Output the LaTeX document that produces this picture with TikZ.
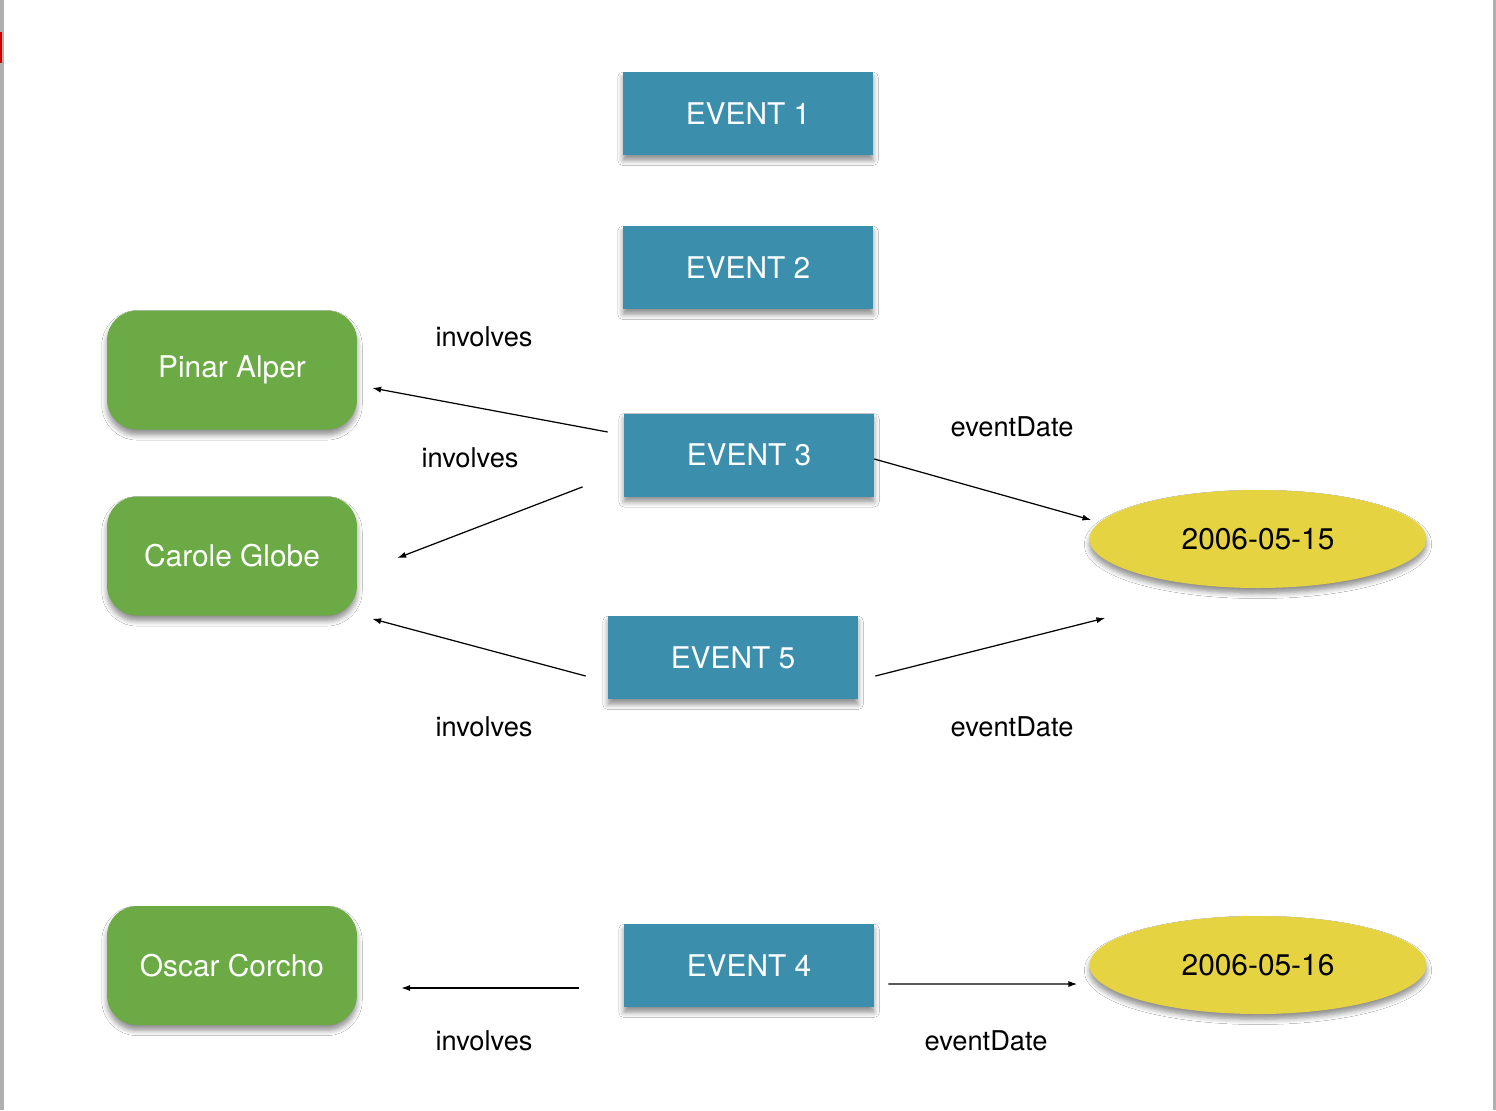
\documentclass[tikz,border=0pt]{standalone}
\usepackage{fontspec}
\setmainfont{TeX Gyre Heros}
\usetikzlibrary{shapes.geometric,shadows.blur,arrows.meta,calc}
\definecolor{evblue}{RGB}{59,143,173}
\definecolor{pgreen}{RGB}{107,170,69}
\definecolor{dyellow}{RGB}{229,211,66}
\definecolor{edge}{RGB}{176,176,176}

\begin{document}
\begin{tikzpicture}[x=0.02cm,y=-0.02cm,
  soft/.style={blur shadow={shadow xshift=0pt,shadow yshift=-3pt,shadow blur radius=3pt,shadow blur steps=6,shadow opacity=45}},
  event/.style={rectangle,fill=evblue,minimum width=5cm,minimum height=1.66cm,inner sep=0pt,text=white,font=\fontsize{17}{20}\selectfont,soft},
  person/.style={rectangle,rounded corners=0.6cm,fill=pgreen,minimum width=5cm,minimum height=2.38cm,inner sep=0pt,text=white,font=\fontsize{17}{20}\selectfont,soft},
  day/.style={ellipse,fill=dyellow,minimum width=6.74cm,minimum height=1.96cm,inner sep=0pt,font=\fontsize{17}{20}\selectfont,soft},
  rel/.style={font=\fontsize{15.5}{18}\selectfont},
  arr/.style={-{Latex[length=5pt,width=3.5pt]},line width=0.7pt}]
\useasboundingbox[fill=white] (0,0) rectangle (1496,1110);
\fill[edge] (0,0) rectangle (4,1110);
\fill[edge] (1493,0) rectangle (1496,1110);
\fill[red!80!black] (0,32) rectangle (2,63);

\node[event] (e1) at (748,113.5) {EVENT 1};
\node[event] (e2) at (748,267.5) {EVENT 2};
\node[event] (e3) at (749,455) {EVENT 3};
\node[event] (e5) at (733,657.5) {EVENT 5};
\node[event] (e4) at (749,965.5) {EVENT 4};

\node[person] (pinar) at (232,370) {Pinar Alper};
\node[person] (carole) at (232,556) {Carole Globe};
\node[person] (oscar) at (232,965.5) {Oscar Corcho};

\node[day] (d15) at (1258,539) {2006-05-15};
\node[day] (d16) at (1258,965) {2006-05-16};

\draw[arr] ($(e3.west)+(-16,-23)$) -- ($(pinar.east)+(15,18)$);
\draw[arr] ($(e3.south west)+(-41,-10)$) -- ($(carole.east)+(40,2)$);
\draw[arr] ($(e5.west)+(-22,18.5)$) -- ($(carole.south east)+(15,3)$);
\draw[arr] ($(e3.east)+(0,4)$) -- ($(d15.west)+(2,-19)$);
\draw[arr] ($(e5.east)+(17,18.5)$) -- ($(d15.west)+(16,79)$);
\draw[arr] ($(e4.west)+(-45,22.5)$) -- ($(oscar.east)+(44,22.5)$);
\draw[arr] ($(e4.east)+(14,18.5)$) -- ($(d16.west)+(-12,19)$);

\node[rel] (inv1) at (484,337) {involves};
\node[rel] (inv2) at (470,458) {involves};
\node[rel] (inv3) at (484,727) {involves};
\node[rel] (inv4) at (484,1041) {involves};
\node[rel] (date1) at (1012,427) {eventDate};
\node[rel] (date2) at (1012,727) {eventDate};
\node[rel] (date3) at (986,1041) {eventDate};
\end{tikzpicture}
\end{document}
